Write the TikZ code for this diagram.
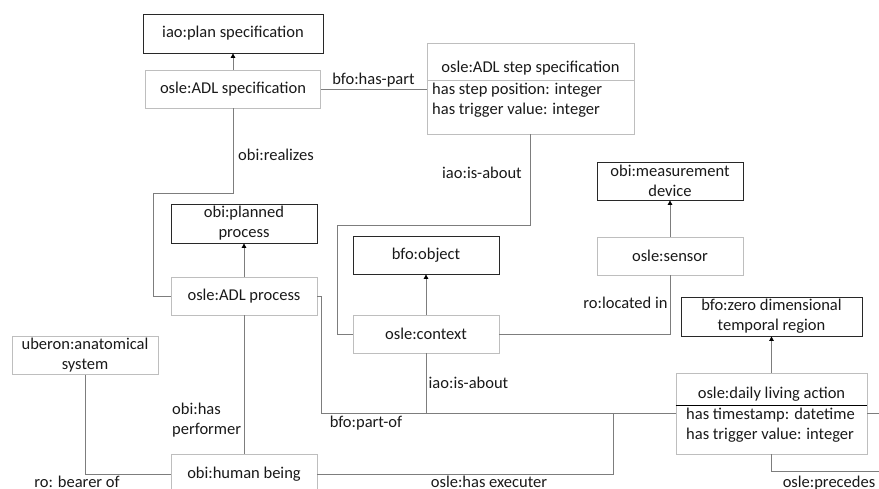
\documentclass[tikz,border=0pt]{standalone}
\usepackage{fontspec}
\setmainfont{Carlito}
\usetikzlibrary{arrows.meta}
\definecolor{boxgray}{RGB}{190,190,190}
\definecolor{linegray}{RGB}{125,125,125}
\definecolor{boxblack}{RGB}{40,40,40}
\definecolor{txt}{RGB}{25,25,25}
\newcommand\dfont{\fontsize{16.5}{20}\selectfont}
\begin{document}
\begin{tikzpicture}[x=1pt,y=-1pt,
  box/.style={draw=boxgray, line width=0.8pt, inner sep=0pt, align=center, font=\dfont, text=txt},
  bbox/.style={box, draw=boxblack},
  conn/.style={draw=linegray, line width=0.8pt},
  isa/.style={conn, -{Triangle[color=black,width=4.5pt,length=4.5pt]}},
  lab/.style={inner sep=0pt, font=\dfont, text=txt},
  sep/.style={line width=0.8pt}]
\useasboundingbox (0,0) rectangle (879,488);
\clip (0,0) rectangle (879,488);
% boxes
\node[bbox, minimum width=180, minimum height=39] (plan) at (233,33.5) {iao:plan specification};
\node[box, minimum width=175, minimum height=38] (adlspec) at (233,89) {osle:ADL specification};
\node[box, minimum width=207, minimum height=91] (step) at (530.5,88.5) {};
\node[lab] (steptitle) at (530.5,68) {osle:ADL step specification};
\draw[sep, draw=boxgray] (step.west |- 0,80) -- (step.east |- 0,80);
\node[lab, anchor=west, align=left] (stepattr) at (432,100.5) {has step position: integer\\has trigger value: integer};
\node[bbox, minimum width=146, minimum height=39] (planned) at (244,223.5) {obi:planned\\process};
\node[box, minimum width=146, minimum height=38] (adlproc) at (244,296) {osle:ADL process};
\node[bbox, minimum width=146, minimum height=38] (object) at (426,255) {bfo:object};
\node[box, minimum width=146, minimum height=38] (context) at (426,334) {osle:context};
\node[bbox, minimum width=146, minimum height=38] (measure) at (670,181) {obi:measurement\\device};
\node[box, minimum width=146, minimum height=38] (sensor) at (670,256) {osle:sensor};
\node[bbox, minimum width=181, minimum height=39] (zero) at (771.5,316.5) {bfo:zero dimensional\\temporal region};
\node[box, minimum width=191, minimum height=81] (daily) at (771.5,413.5) {};
\node[lab] (dailytitle) at (771.5,394) {osle:daily living action};
\draw[sep, draw=black] (daily.west |- 0,405) -- (daily.east |- 0,405);
\node[lab, anchor=west, align=left] (dailyattr) at (686,425.5) {has timestamp: datetime\\has trigger value: integer};
\node[box, minimum width=146, minimum height=38] (uberon) at (85,355.5) {uberon:anatomical\\system};
\node[box, minimum width=146, minimum height=40] (human) at (244,474) {obi:human being};
\coordinate (out1) at (885,413.5);
\coordinate (out2) at (885,471);
% connectors
\draw[isa] (adlspec.north) -- (plan.south);
\draw[isa] (adlproc.north) -- (planned.south);
\draw[isa] (context.north) -- (object.south);
\draw[isa] (sensor.north) -- (measure.south);
\draw[isa] (daily.north) -- (zero.south);
\draw[conn] (adlspec.east) -- (step.west |- adlspec.east);
\draw[conn] (adlspec.south) |- (153,193) |- (adlproc.west);
\draw[conn] (step.south) |- (337,225) |- (context.west);
\draw[conn] (sensor.south) |- (context.east);
\draw[conn] (adlproc.east) -- (321,296) |- (daily.west);
\draw[conn] (context.south) -- (context.south |- daily.west);
\draw[conn] (human.east) -| (613,413.5);
\draw[conn] (daily.east) -- (out1);
\draw[conn] (daily.south) |- (out2);
\draw[conn] (uberon.south) |- (human.west);
\draw[conn] (human.north) -- (adlproc.south);
% labels
\node[lab] (l1) at (373.5,80) {bfo:has-part};
\node[lab] (l2) at (276,155) {obi:realizes};
\node[lab] (l3) at (482,172.5) {iao:is-about};
\node[lab] (l4) at (625.5,302.5) {ro:located in};
\node[lab] (l5) at (468.5,382.5) {iao:is-about};
\node[lab] (l6) at (366,423.5) {bfo:part-of};
\node[lab, anchor=west, align=left] (l7) at (172,420.5) {obi:has\\performer};
\node[lab, anchor=base] (l8) at (489,487) {osle:has executer};
\node[lab, anchor=base] (l9) at (829,487) {osle:precedes};
\node[lab, anchor=base] (l10) at (77,487) {ro: bearer of};
\end{tikzpicture}
\end{document}
